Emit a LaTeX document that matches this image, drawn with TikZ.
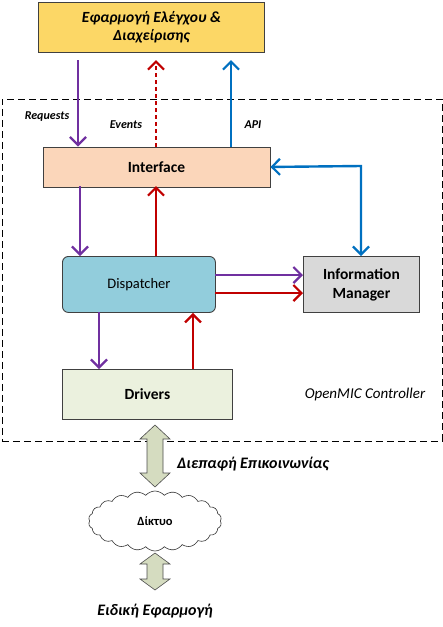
\documentclass[tikz,border=0pt]{standalone}
\usepackage{fontspec}
\setmainfont{Carlito}
\usetikzlibrary{arrows.meta,shapes.symbols}
\definecolor{cpurple}{HTML}{7030A0}
\definecolor{cred}{HTML}{C00000}
\definecolor{cblue}{HTML}{0070C0}
\definecolor{cyellow}{HTML}{FCD766}
\definecolor{cpeach}{HTML}{FBD6BA}
\definecolor{cdisp}{HTML}{92CDDC}
\definecolor{cinfo}{HTML}{D9D9D9}
\definecolor{cdrv}{HTML}{EBF1DE}
\definecolor{cfat}{HTML}{D5DCC0}
\begin{document}
\begin{tikzpicture}[x=1pt,y=-1pt,
  box/.style={draw=black!75,line width=0.9pt,inner sep=0pt,anchor=north west},
  arr/.style={line width=2.4pt,-{Straight Barb[length=8pt,width=16pt,line width=2.2pt]}},
  biarr/.style={line width=2.4pt,{Straight Barb[length=8pt,width=16pt,line width=2.2pt]}-{Straight Barb[length=8pt,width=16pt,line width=2.2pt]}},
  lbl/.style={font=\fontsize{12}{14}\selectfont\bfseries\itshape,inner sep=0pt},
  fat/.style={draw=black!70,line width=0.6pt,fill=cfat}]
\useasboundingbox (0,0) rectangle (443,627);
% dashed frame
\node[draw,dashed,dash pattern=on 7pt off 4pt,line width=0.8pt,minimum width=440pt,minimum height=342pt,anchor=north west,inner sep=0pt] (frame) at (1.5,98.5) {};
% boxes
\node[box,fill=cyellow,minimum width=226pt,minimum height=50pt,align=center,font=\fontsize{15.5}{18}\selectfont\bfseries\itshape] (app) at (38,2) {Εφαρμογή Ελέγχου \&\\Διαχείρισης};
\node[box,fill=cpeach,minimum width=227pt,minimum height=40pt,font=\fontsize{15.5}{18}\selectfont\bfseries] (iface) at (42.5,146.5) {Interface};
\node[box,fill=cdisp,rounded corners=6pt,minimum width=153pt,minimum height=56pt,font=\fontsize{14.5}{16}\selectfont] (disp) at (62,256) {Dispatcher};
\node[box,fill=cinfo,minimum width=116pt,minimum height=56pt,align=center,font=\fontsize{15.5}{19}\selectfont\bfseries] (info) at (303,256) {Information\\Manager};
\node[box,fill=cdrv,minimum width=170pt,minimum height=50pt,font=\fontsize{15.5}{18}\selectfont\bfseries] (drv) at (62,369) {Drivers};
% top arrows
\coordinate (reqtop) at (78,60);
\coordinate (evtop) at (156,60);
\coordinate (apitop) at (231,60);
\draw[arr,cpurple] (reqtop) -- (reqtop |- iface.north);
\draw[arr,cred,dash pattern=on 4pt off 3pt] (evtop |- iface.north) -- (evtop);
\draw[arr,cblue] (apitop |- iface.north) -- (apitop);
\node[lbl] (lreq) at (47,117) {Requests};
\node[lbl] (lev) at (126,125) {Events};
\node[lbl] (lapi) at (253,125) {API};
% interface <-> info
\coordinate (corner) at (361,166);
\draw[biarr,cblue] (iface.east) -- (corner) -- (corner |- info.north);
% interface <-> dispatcher
\coordinate (c1) at (80,186);
\draw[arr,cpurple] (c1) -- (c1 |- disp.north);
\coordinate (c2) at (156,186);
\draw[arr,cred] (c2 |- disp.north) -- (c2);
% dispatcher -> info
\coordinate (c3) at (215,275);
\draw[arr,cpurple] (c3) -- (c3 -| info.west);
\coordinate (c4) at (215,293);
\draw[arr,cred] (c4) -- (c4 -| info.west);
% dispatcher <-> drivers
\coordinate (c5) at (99,312);
\draw[arr,cpurple] (c5) -- (c5 |- drv.north);
\coordinate (c6) at (193,369);
\draw[arr,cred] (c6) -- (c6 |- disp.south);
\node[font=\fontsize{15}{18}\selectfont\itshape,inner sep=0pt] (omc) at (365,394) {OpenMIC Controller};
% fat arrows
\coordinate (fa) at (155,425);
\draw[fat] (fa) -- ++(15,14) -- ++(-7,0) -- ++(0,34) -- ++(7,0) -- ++(-15,14) -- ++(-15,-14) -- ++(7,0) -- ++(0,-34) -- ++(-7,0) -- cycle;
\node[font=\fontsize{16}{18}\selectfont\bfseries\itshape,inner sep=0pt] (comm) at (253,464) {Διεπαφή Επικοινωνίας};
\node[cloud,draw=black!80,line width=0.6pt,fill=white,cloud puffs=22,cloud puff arc=100,aspect=2.3,minimum width=133pt,minimum height=60pt,inner sep=0pt,font=\fontsize{12.5}{14}\selectfont\bfseries] (net) at (155,521) {Δίκτυο};
\coordinate (fb) at (155,553);
\draw[fat] (fb) -- ++(15,11) -- ++(-7,0) -- ++(0,15) -- ++(7,0) -- ++(-15,11) -- ++(-15,-11) -- ++(7,0) -- ++(0,-15) -- ++(-7,0) -- cycle;
\node[font=\fontsize{16}{18}\selectfont\bfseries\itshape,inner sep=0pt] (spec) at (155,611) {Ειδική Εφαρμογή};
\end{tikzpicture}
\end{document}
